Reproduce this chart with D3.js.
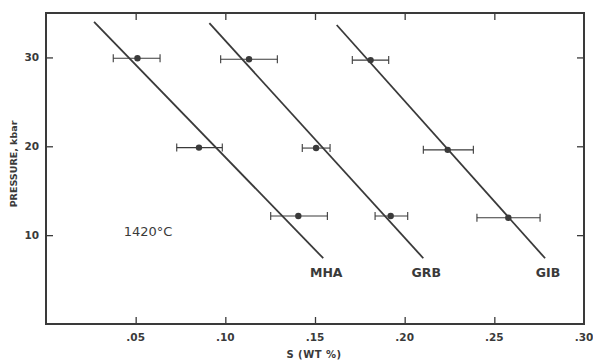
<!DOCTYPE html>
<html>
<head>
<meta charset="utf-8">
<script src="https://cdn.jsdelivr.net/npm/d3@7"></script>
<style>
  body { margin: 0; background: #fff; }
  svg { display: block; }
  text { font-family: "DejaVu Sans", Verdana, sans-serif; fill: #3a3a3a; }
</style>
</head>
<body>
<div id="chart"></div>
<script>
// compositions and measured sulfur solubility
const compositions = ["MHA", "GRB", "GIB"];
const pressures = [30, 20, 12.1];
const sulfur = [
  [0.051, 0.0853, 0.1407],
  [0.1132, 0.1506, 0.1922],
  [0.181, 0.224, 0.2578]
];
const pointPressures = [
  [29.9, 19.85, 12.15],
  [29.8, 19.8, 12.15],
  [29.7, 19.6, 11.95]
];
const errLow = [
  [0.0375, 0.0729, 0.1253],
  [0.0974, 0.1429, 0.1835],
  [0.1708, 0.2104, 0.2403]
];
const errHigh = [
  [0.0636, 0.0983, 0.1569],
  [0.129, 0.1584, 0.2017],
  [0.1911, 0.2383, 0.2755]
];
// fitted lines: [S at top, P at top], [S at bottom, P at bottom]
const fitLines = [
  [[0.0268, 34.0], [0.1546, 7.4]],
  [[0.0911, 33.85], [0.2104, 7.4]],
  [[0.1621, 33.65], [0.2783, 7.4]]
];
const xTicks = [0.05, 0.10, 0.15, 0.20, 0.25, 0.30];
const xTickLabels = [".05", ".10", ".15", ".20", ".25", ".30"];
const yTicks = [10, 20, 30];

const width = 593, height = 360;
const margin = {top: 13, right: 9, bottom: 36, left: 46};
const ink = "#3a3a3a";

const svg = d3.select("#chart").append("svg")
  .attr("width", width)
  .attr("height", height);

const x = d3.scaleLinear()
  .domain([0, 0.30])
  .range([margin.left, width - margin.right]);
const y = d3.scaleLinear()
  .domain([0, 35])
  .range([height - margin.bottom, margin.top]);

// frame
svg.append("rect")
  .attr("x", x(0)).attr("y", y(35))
  .attr("width", x(0.30) - x(0)).attr("height", y(0) - y(35))
  .attr("fill", "none").attr("stroke", ink).attr("stroke-width", 2);

// axes with inward ticks on all four sides
const tickLen = 7;
const bottomAxis = d3.axisBottom(x).tickValues(xTicks.slice(0, 5))
  .tickSize(-tickLen).tickFormat("");
const topAxis = d3.axisTop(x).tickValues(xTicks.slice(0, 5))
  .tickSize(-tickLen).tickFormat("");
const leftAxis = d3.axisLeft(y).tickValues(yTicks).tickSize(-tickLen).tickFormat("");
const rightAxis = d3.axisRight(y).tickValues(yTicks).tickSize(-tickLen).tickFormat("");

function styleAxis(g) {
  g.select(".domain").remove();
  g.selectAll("line").attr("stroke", ink).attr("stroke-width", 1.3);
}
svg.append("g").attr("transform", `translate(0,${y(0)})`).call(bottomAxis).call(styleAxis);
svg.append("g").attr("transform", `translate(0,${y(35)})`).call(topAxis).call(styleAxis);
svg.append("g").attr("transform", `translate(${x(0)},0)`).call(leftAxis).call(styleAxis);
svg.append("g").attr("transform", `translate(${x(0.30)},0)`).call(rightAxis).call(styleAxis);

// tick labels
svg.selectAll(".xlab").data(xTicks).enter().append("text")
  .attr("class", "xlab")
  .attr("x", d => x(d))
  .attr("y", y(0) + 17)
  .attr("text-anchor", "middle")
  .attr("font-size", 10.5).attr("font-weight", "bold")
  .text((d, i) => xTickLabels[i]);

svg.selectAll(".ylab").data(yTicks).enter().append("text")
  .attr("class", "ylab")
  .attr("x", x(0) - 7)
  .attr("y", d => y(d) + 4)
  .attr("text-anchor", "end")
  .attr("font-size", 10.5).attr("font-weight", "bold")
  .text(d => d);

// axis titles
svg.append("text")
  .attr("x", 314).attr("y", 358)
  .attr("text-anchor", "middle")
  .attr("font-size", 10).attr("font-weight", "bold")
  .attr("letter-spacing", 0.5)
  .text("S (WT %)");

svg.append("text")
  .attr("transform", `translate(17,164) rotate(-90)`)
  .attr("text-anchor", "middle")
  .attr("font-size", 9.5).attr("font-weight", "bold")
  .text("PRESSURE, kbar");

// fitted lines
const line = d3.line().x(d => x(d[0])).y(d => y(d[1]));
svg.selectAll(".fit").data(fitLines).enter().append("path")
  .attr("class", "fit")
  .attr("d", line)
  .attr("fill", "none").attr("stroke", ink).attr("stroke-width", 1.8);

// points with error bars
compositions.forEach((c, ci) => {
  const g = svg.append("g");
  pressures.forEach((p, pi) => {
    const py = y(pointPressures[ci][pi]);
    const x0 = x(errLow[ci][pi]), x1 = x(errHigh[ci][pi]);
    g.append("line").attr("x1", x0).attr("x2", x1).attr("y1", py).attr("y2", py)
      .attr("stroke", ink).attr("stroke-width", 1.1);
    [x0, x1].forEach(xe => {
      g.append("line").attr("x1", xe).attr("x2", xe).attr("y1", py - 4).attr("y2", py + 4)
        .attr("stroke", ink).attr("stroke-width", 1.1);
    });
    g.append("circle").attr("cx", x(sulfur[ci][pi])).attr("cy", py).attr("r", 3.2)
      .attr("fill", ink);
  });
});

// composition labels under each line
svg.selectAll(".comp").data(compositions).enter().append("text")
  .attr("class", "comp")
  .attr("x", (d, i) => x(fitLines[i][1][0]) + 3)
  .attr("y", y(fitLines[0][1][1]) + 19)
  .attr("text-anchor", "middle")
  .attr("font-size", 12.5).attr("font-weight", "bold")
  .text(d => d);

svg.append("text")
  .attr("x", 148).attr("y", 236)
  .attr("text-anchor", "middle")
  .attr("font-size", 13)
  .text("1420°C");
</script>
</body>
</html>
